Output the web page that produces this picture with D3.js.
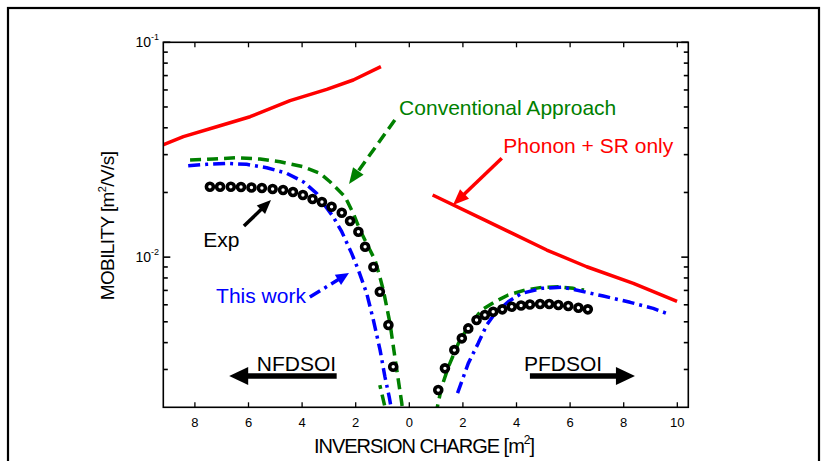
<!DOCTYPE html>
<html><head><meta charset="utf-8">
<script src="https://cdn.jsdelivr.net/npm/d3@7"></script>
<style>
body{margin:0;background:#fff}
svg{display:block}
text{font-family:"Liberation Sans",Arial,Helvetica,sans-serif}
</style>
</head><body>
<svg id="chart" width="828" height="461"></svg>
<script>
// ---------------- DATA ----------------
// x axis ticks (signed position; labels show absolute inversion charge)
const xTicks = [-8, -6, -4, -2, 0, 2, 4, 6, 8, 10];
const yMajorTicks = [0.01, 0.1];
const yMinorTicks = [0.003, 0.004, 0.005, 0.006, 0.007, 0.008, 0.009,
                     0.02, 0.03, 0.04, 0.05, 0.06, 0.07, 0.08, 0.09];

// NFDSOI side (charge given as positive magnitude, drawn to the left of 0)
const nPhononQ  = [9.25, 8.43, 7.19, 5.94, 4.45, 3.08, 2.09, 1.06];
const nPhononMu = [0.0331, 0.03636, 0.04047, 0.04504, 0.05348, 0.0604, 0.06675, 0.0770];

const nConvQ  = [8.18, 7.31, 6.44, 5.57, 4.82, 3.96, 3.33, 2.96, 2.40, 2.09, 1.84, 1.53, 1.28, 1.10, 0.97, 0.72, 0.54, 0.41, 0.28, 0.235, 0.795, 1.10];
const nConvMu = [0.02831, 0.02862, 0.02903, 0.02862, 0.0278, 0.02635, 0.02455, 0.02244, 0.01911, 0.01599, 0.01337, 0.01118, 0.009694, 0.008106, 0.007028, 0.004918, 0.003438, 0.002678, 0.002086, 0.00184, 0.001744, 0.002538];

const nThisQ  = [8.25, 7.56, 6.81, 6.07, 5.32, 4.57, 3.96, 3.46, 3.21, 2.84, 2.52, 2.15, 1.90, 1.59, 1.34, 1.09, 0.91, 0.75, 0.65];
const nThisMu = [0.02664, 0.02704, 0.02733, 0.02704, 0.02608, 0.02455, 0.02244, 0.01982, 0.0178, 0.01542, 0.01313, 0.01041, 0.008708, 0.006784, 0.005096, 0.003693, 0.002775, 0.002239, 0.0019];

const nExpQ  = [7.44, 7.06, 6.66, 6.28, 5.89, 5.50, 5.10, 4.71, 4.34, 3.97, 3.61, 3.26, 2.90, 2.52, 2.21, 1.90, 1.65, 1.34, 1.10, 0.78, 0.60];
const nExpMu = [0.02127, 0.02127, 0.02127, 0.0212, 0.02109, 0.02098, 0.02075, 0.02053, 0.0201, 0.01946, 0.01864, 0.01805, 0.01716, 0.01609, 0.01473, 0.01313, 0.01118, 0.008993, 0.006901, 0.00483, 0.003089];

// PFDSOI side
const pPhononQ  = [0.87, 2.82, 5.13, 6.62, 8.36, 9.99];
const pPhononMu = [0.01946, 0.01488, 0.01079, 0.00902, 0.00755, 0.00622];

const pConvQ  = [0.98, 1.21, 1.46, 1.83, 2.20, 2.70, 3.20, 3.69, 4.32, 4.94, 5.56, 6.12, 6.52];
const pConvMu = [0.00184, 0.002493, 0.003089, 0.003969, 0.004742, 0.005673, 0.006201, 0.006662, 0.007028, 0.007235, 0.007281, 0.007156, 0.007028];

const pThisQ  = [1.80, 2.20, 2.57, 2.89, 3.20, 3.69, 4.19, 4.94, 5.69, 6.12, 7.24, 8.24, 9.10, 9.60];
const pThisMu = [0.002329, 0.003203, 0.003969, 0.00483, 0.005476, 0.006201, 0.006784, 0.007156, 0.007235, 0.007081, 0.00659, 0.006161, 0.005775, 0.005476];

const pExpQ  = [1.08, 1.33, 1.68, 1.96, 2.20, 2.51, 2.82, 3.13, 3.47, 3.82, 4.17, 4.50, 4.88, 5.22, 5.56, 5.93, 6.31, 6.66];
const pExpMu = [0.002406, 0.003036, 0.003693, 0.004188, 0.00466, 0.005096, 0.005376, 0.00557, 0.005715, 0.005876, 0.005952, 0.006016, 0.006048, 0.006048, 0.005984, 0.00592, 0.005813, 0.005715];

// ---------------- LAYOUT ----------------
const svg = d3.select("#chart");
const L = 163.3, R = 688.3, T = 42.3, B = 407.3;
const x = d3.scaleLinear().domain([-9.179, 10.41]).range([L, R]);
const y = d3.scaleLog().domain([0.002, 0.1]).range([B, T]);

const RED = "#ff0000", GREEN = "#008000", BLUE = "#0000ff";

// outer frame
svg.append("rect").attr("x", 8).attr("y", 8).attr("width", 811).attr("height", 470)
  .attr("fill", "none").attr("stroke", "#000").attr("stroke-width", 2.2);

svg.append("defs").append("clipPath").attr("id", "clip")
  .append("rect").attr("x", L).attr("y", T).attr("width", R - L).attr("height", B - T);

const plot = svg.append("g").attr("clip-path", "url(#clip)");

const zipN = (q, m) => q.map((v, i) => [x(-v), y(m[i])]);
const zipP = (q, m) => q.map((v, i) => [x(v), y(m[i])]);
const line = d3.line();

function curve(pts, color, dash) {
  plot.append("path").attr("d", line(pts)).attr("fill", "none")
    .attr("stroke", color).attr("stroke-width", 3.5)
    .attr("stroke-dasharray", dash || null).attr("stroke-linejoin", "round");
}
const DASH = "11,6", DASHDOT = "12,5,3,5";

curve(zipN(nPhononQ, nPhononMu), RED);
curve(zipP(pPhononQ, pPhononMu), RED);
curve(zipN(nConvQ, nConvMu), GREEN, DASH);
curve(zipP(pConvQ, pConvMu), GREEN, DASH);
curve(zipN(nThisQ, nThisMu), BLUE, DASHDOT);
curve(zipP(pThisQ, pThisMu), BLUE, DASHDOT);

function circles(pts) {
  plot.append("g").selectAll("circle").data(pts).join("circle")
    .attr("cx", d => d[0]).attr("cy", d => d[1]).attr("r", 3.5)
    .attr("fill", "#fff").attr("stroke", "#000").attr("stroke-width", 3.6);
}
circles(zipN(nExpQ, nExpMu));
circles(zipP(pExpQ, pExpMu));

// ---------------- AXES ----------------
const ax = svg.append("g");
ax.append("rect").attr("x", L).attr("y", T).attr("width", R - L).attr("height", B - T)
  .attr("fill", "none").attr("stroke", "#000").attr("stroke-width", 1.6);

// x ticks (bottom & top, inward)
xTicks.forEach(t => {
  const px = x(t);
  ax.append("line").attr("x1", px).attr("x2", px).attr("y1", B).attr("y2", B - 5).attr("stroke", "#000").attr("stroke-width", 1.3);
  ax.append("line").attr("x1", px).attr("x2", px).attr("y1", T).attr("y2", T + 5).attr("stroke", "#000").attr("stroke-width", 1.3);
  ax.append("text").attr("x", px).attr("y", 427).attr("text-anchor", "middle")
    .attr("font-size", 13).attr("fill", "#000").text(Math.abs(t));
});
// y ticks
yMajorTicks.forEach(t => {
  const py = y(t);
  ax.append("line").attr("x1", L).attr("x2", L + 7).attr("y1", py).attr("y2", py).attr("stroke", "#000").attr("stroke-width", 1.6);
  ax.append("line").attr("x1", R).attr("x2", R - 7).attr("y1", py).attr("y2", py).attr("stroke", "#000").attr("stroke-width", 1.6);
  const e = Math.round(Math.log10(t));
  const tx = ax.append("text").attr("x", 159).attr("y", py + 5).attr("text-anchor", "end")
    .attr("font-size", 14).attr("fill", "#000");
  tx.append("tspan").text("10");
  tx.append("tspan").attr("font-size", 9).attr("dy", -7).text(String(e));
});
yMinorTicks.forEach(t => {
  const py = y(t);
  ax.append("line").attr("x1", L).attr("x2", L + 4.5).attr("y1", py).attr("y2", py).attr("stroke", "#000").attr("stroke-width", 1.6);
  ax.append("line").attr("x1", R).attr("x2", R - 4.5).attr("y1", py).attr("y2", py).attr("stroke", "#000").attr("stroke-width", 1.6);
});

// axis titles
const xt = svg.append("text").attr("x", 424).attr("y", 453).attr("text-anchor", "middle")
  .attr("font-size", 20).attr("letter-spacing", -1).attr("fill", "#000");
xt.append("tspan").text("INVERSION CHARGE [m");
xt.append("tspan").attr("font-size", 12).attr("dy", -9).text("2");
xt.append("tspan").attr("dy", 9).text("]");

const yt = svg.append("text").attr("transform", "translate(113.5,226) rotate(-90)")
  .attr("text-anchor", "middle").attr("font-size", 19).attr("letter-spacing", -0.6).attr("fill", "#000");
yt.append("tspan").text("MOBILITY [m");
yt.append("tspan").attr("font-size", 11).attr("dy", -8).text("2");
yt.append("tspan").attr("dy", 8).text("/V/s]");

// ---------------- ANNOTATIONS ----------------
function arrow(x1, y1, x2, y2, color, w, dash, hl, hw) {
  const dx = x2 - x1, dy = y2 - y1, len = Math.hypot(dx, dy);
  const ux = dx / len, uy = dy / len;
  const bx = x2 - ux * hl, by = y2 - uy * hl;
  svg.append("line").attr("x1", x1).attr("y1", y1).attr("x2", bx + ux * 2).attr("y2", by + uy * 2)
    .attr("stroke", color).attr("stroke-width", w).attr("stroke-dasharray", dash || null);
  const px = -uy, py = ux;
  svg.append("path").attr("d", `M${x2},${y2}L${bx + px * hw / 2},${by + py * hw / 2}L${bx - px * hw / 2},${by - py * hw / 2}Z`)
    .attr("fill", color);
}
function label(xv, yv, txt, color) {
  svg.append("text").attr("x", x(xv)).attr("y", y(yv)).attr("font-size", 21).attr("fill", color).text(txt);
}

label(-0.38, 0.04587, "Conventional Approach", GREEN);
arrow(x(-0.54), y(0.04348), x(-2.25), y(0.02189), GREEN, 3.5, DASH, 16, 13);

label(3.51, 0.03042, "Phonon + SR only", RED);
arrow(x(3.45), y(0.02884), x(1.63), y(0.01748), RED, 3.5, null, 16, 13);

label(-7.69, 0.01114, "Exp", "#000");
arrow(x(-6.17), y(0.01395), x(-5.16), y(0.01844), "#000", 3.5, null, 14, 12);

label(-7.21, 0.00609, "This work", BLUE);
arrow(x(-3.71), y(0.006519), x(-2.25), y(0.008433), BLUE, 3.5, DASHDOT, 13, 12);

label(-5.69, 0.002959, "NFDSOI", "#000");
arrow(x(-2.71), y(0.002796), x(-6.72), y(0.002796), "#000", 5.5, null, 19, 18);

label(4.28, 0.002959, "PFDSOI", "#000");
arrow(x(4.5), y(0.002796), x(8.42), y(0.002796), "#000", 5.5, null, 19, 18);
</script>
</body></html>
